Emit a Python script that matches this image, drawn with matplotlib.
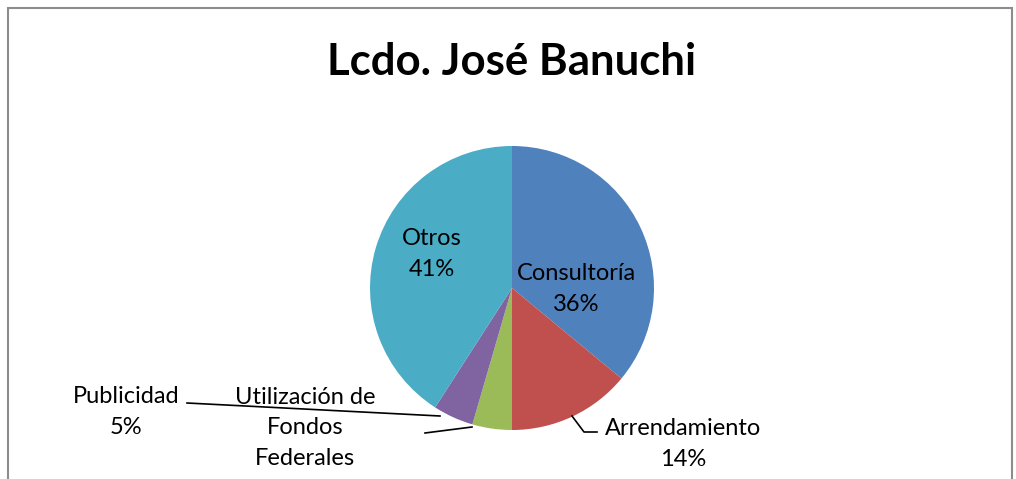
import matplotlib.pyplot as plt
from matplotlib.patches import Rectangle

plt.rcParams['font.family'] = ['Lato', 'DejaVu Sans']

# data
categorias = ['Consultoría', 'Arrendamiento', 'Utilización de\nFondos\nFederales', 'Publicidad', 'Otros']
valores = [36, 14, 4.5, 4.6, 40.9]
colores = ['#4F81BD', '#C0504D', '#9BBB59', '#8064A2', '#4BACC6']

W, H = 1016, 479
fig = plt.figure(figsize=(W / 100, H / 100), dpi=100)
ax = fig.add_axes([0, 0, 1, 1])

# chart border (bottom runs off the picture)
fig.patches.append(Rectangle((8 / W, -0.1), (1012 - 8) / W, (H - 8) / H + 0.1,
                             transform=fig.transFigure, fill=False,
                             edgecolor='#8c8c8c', linewidth=1.5))

def py(y):
    return H - y

ax.pie(valores, colors=colores, startangle=90, counterclock=False,
       center=(512, py(288)), radius=142, frame=True,
       wedgeprops=dict(linewidth=0))
ax.set_xlim(0, W)
ax.set_ylim(0, H)
ax.set_aspect('equal')
ax.axis('off')

pct = [f'{round(v)}%' for v in valores]
fs = 17
ls = 1.55

ax.text(512, py(62), 'Lcdo. José Banuchi', ha='center', va='center',
        fontsize=31.5, fontweight='bold')

# labels inside
ax.text(576, py(289), f'{categorias[0]}\n{pct[0]}', ha='center', va='center',
        fontsize=fs, linespacing=ls)
ax.text(432, py(254), f'{categorias[4]}\n{pct[4]}', ha='center', va='center',
        fontsize=fs, linespacing=ls)

# labels outside
ax.text(683, py(444), f'{categorias[1]}\n{pct[1]}', ha='center', va='center',
        fontsize=fs, linespacing=ls)
ax.text(126, py(412), f'{categorias[3]}\n{pct[3]}', ha='center', va='center',
        fontsize=fs, linespacing=ls)
ax.text(305, py(428), categorias[2], ha='center', va='center',
        fontsize=fs, linespacing=ls)

# leader lines
ax.plot([572, 584, 597], [py(416), py(432), py(432)], color='black', lw=1.2)
ax.plot([187, 440], [py(403), py(416)], color='black', lw=1.2)
ax.plot([425, 472], [py(433), py(427)], color='black', lw=1.2)

fig.savefig('out.png', dpi=100)
